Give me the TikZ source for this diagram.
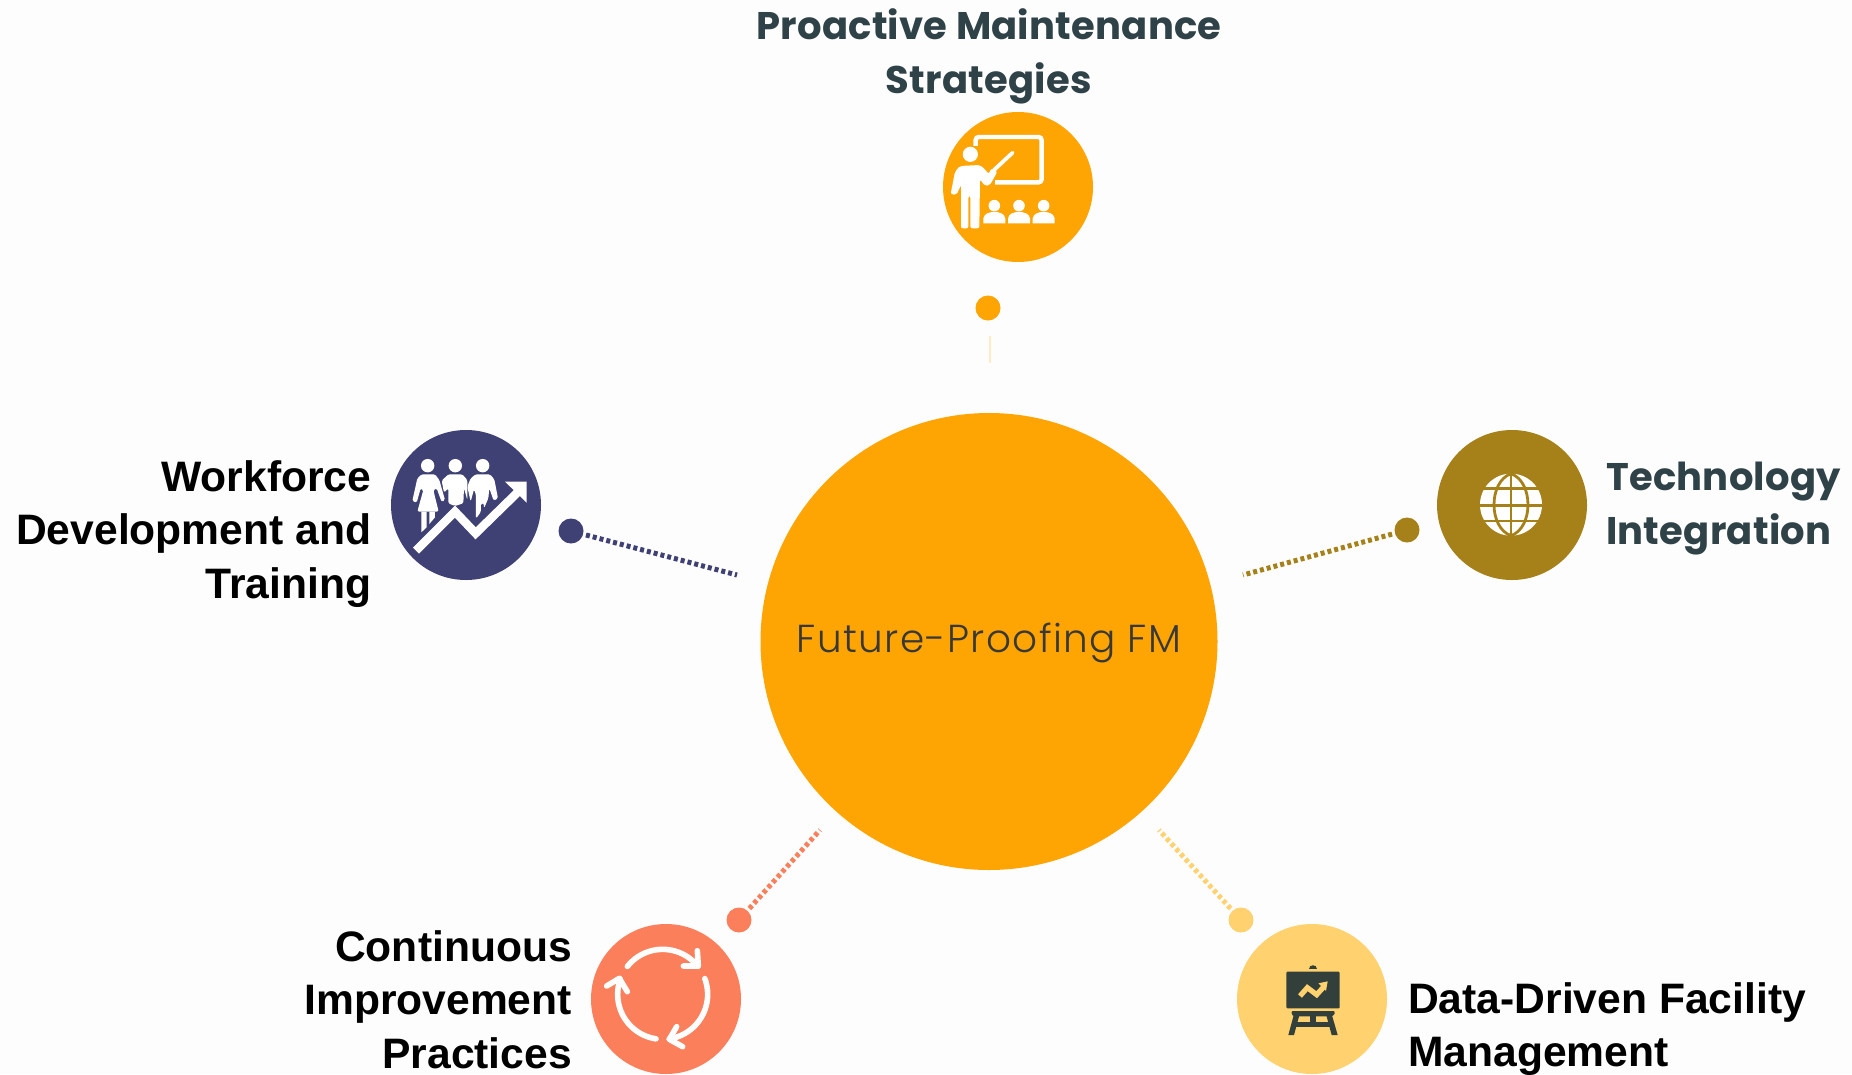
\documentclass[tikz,border=0pt]{standalone}
\usepackage{fontspec}
\setmainfont{Liberation Sans}
\newfontfamily\montsb[LetterSpace=0.6]{Poppins Bold}
\newfontfamily\montl[LetterSpace=3.5]{Poppins Light}
\definecolor{bgc}{HTML}{FDFDFD}
\definecolor{orangec}{HTML}{FFA503}
\definecolor{navyc}{HTML}{3F4175}
\definecolor{goldc}{HTML}{A6811A}
\definecolor{coralc}{HTML}{FB7F5B}
\definecolor{lightc}{HTML}{FFD26F}
\definecolor{darkc}{HTML}{323F3B}
\definecolor{titlec}{HTML}{2F4247}
\definecolor{paleline}{HTML}{FFEBC6}
\tikzset{
  big/.style={circle,minimum size=150pt,inner sep=0pt,outer sep=0pt},
  dot/.style={circle,minimum size=25pt,inner sep=0pt,outer sep=0pt},
  link/.style={line width=5pt,dash pattern=on 4pt off 3pt,shorten <=3pt},
  armhead/.style={font=\fontsize{42.6}{53.5}\selectfont\bfseries,text=black,inner sep=0pt},
  monthead/.style={font=\fontsize{38.5}{54}\selectfont\montsb,text=titlec,inner sep=0pt,align=center},
  zoomed/.style={x=0.3333pt,y=-0.3333pt},
}
\begin{document}
\begin{tikzpicture}[x=1pt,y=-1pt]
\useasboundingbox (0,0) rectangle (1852,1074);
\clip (0,0) rectangle (1852,1074);
\fill[bgc] (0,0) rectangle (1852,1074);
% main
\node[circle,minimum size=457pt,inner sep=0pt,outer sep=0pt,fill=orangec] (main) at (989,641.5) {};
\node[text=black!78,font=\fontsize{39}{44}\selectfont\montl,inner sep=0pt] (mainlabel) at (989,642.5) {Future-Proofing FM};
% outer circles
\node[big,fill=orangec] (cP) at (1018,187) {};
\node[big,fill=navyc] (cW) at (466,505) {};
\node[big,fill=goldc] (cT) at (1512,505) {};
\node[big,fill=coralc] (cC) at (666,999) {};
\node[big,fill=lightc] (cD) at (1312,999) {};
% dots
\node[dot,fill=orangec] (dP) at (988,308) {};
\node[dot,fill=navyc] (dW) at (571,531) {};
\node[dot,fill=goldc] (dT) at (1407,530) {};
\node[dot,fill=coralc] (dC) at (739,920) {};
\node[dot,fill=lightc] (dD) at (1241,920) {};
% connectors
\coordinate (eP) at (990,363);
\coordinate (sP) at (990,336);
\coordinate (eW) at (737,575);
\coordinate (eT) at (1243,575);
\coordinate (eC) at (820,830);
\coordinate (eD) at (1159,830);
\draw[line width=1.5pt,paleline] (sP) -- (eP);
\draw[link,navyc] (dW) -- (eW);
\draw[link,goldc] (dT) -- (eT);
\draw[link,coralc] (dC) -- (eC);
\draw[link,lightc] (dD) -- (eD);
% labels
\node[monthead,anchor=north] (tP) at (989,8) {Proactive Maintenance\\Strategies};
\node[monthead,anchor=north west,align=left] (tT) at (1606,462) {Technology\\Integration};
\node[armhead,anchor=north east,align=right] (tW) at (371.5,460) {Workforce\\Development and\\Training};
\node[armhead,anchor=north east,align=right] (tC) at (572,930) {Continuous\\Improvement\\Practices};
\node[armhead,anchor=north west,align=left] (tD) at (1408,982) {Data-Driven Facility\\Management};
% icon: teacher
\begin{scope}[shift={(920,90)},zoomed]
\draw[white,line width=4.4pt,rounded corners=3pt] (167,168)--(167,141)--(365,141)--(365,277)--(225,277);
\fill[white] (151,193) circle[radius=7.6pt];
\draw[white,line width=3.8pt,line cap=round] (278,188)--(222,240);
\fill[white,rounded corners=2pt] (123,415)--(123,285)--(109,315)--(92,312)--(105,245)--(120,228)--(180,225)--(197,240)--(205,252)--(215,235)--(232,245)--(210,285)--(195,288)--(180,268)--(178,415)--(151,415)--(151,318)--(145,318)--(145,415)--cycle;
\foreach \hx in {223,297,371}{
  \fill[white] (\hx,347) circle[radius=5.8pt];
  \fill[white] (\hx-33,400)--(\hx-33,385) .. controls (\hx-30,370) and (\hx-15,366) .. (\hx,366) .. controls (\hx+15,366) and (\hx+30,370) .. (\hx+33,385)--(\hx+33,400)--cycle;
}
\end{scope}
% icon: workforce
\begin{scope}[shift={(380,420)},zoomed]
\foreach \hx in {143,226,308}{\fill[white] (\hx,137) circle[radius=6.7pt];}
\fill[white,rounded corners=1.5pt] (125,163)--(165,163)--(178,180)--(195,240)--(185,246)--(170,205)--(160,210)--(176,275)--(112,275)--(130,210)--(122,205)--(110,248)--(97,243)--(112,175)--cycle;
\fill[white] (124,275)--(124,337)--(140,322)--(140,275)--cycle;
\fill[white] (148,275)--(148,312)--(165,292)--(165,275)--cycle;
\fill[white,rounded corners=1.5pt] (205,163)--(247,163)--(262,180)--(262,240)--(252,205)--(250,250)--(225,258)--(205,250)--(205,205)--(192,218)--(185,182)--cycle;
\fill[white,rounded corners=1.5pt] (287,163)--(330,163)--(343,178)--(354,235)--(341,242)--(328,205)--(325,235)--(312,265)--(312,250)--(303,250)--(303,275)--(288,296)--(288,225)--(282,208)--(272,245)--(262,200)--(272,175)--cycle;
\draw[white,line width=8.5pt] (108,392)--(225,275)--(287,340)--(415,215);
\fill[white] (375,185)--(440,185)--(440,248)--cycle;
\end{scope}
% icon: globe
\begin{scope}[shift={(1430,420)},zoomed]
\fill[white] (243,254) circle[radius=31pt];
\draw[goldc,line width=2.8pt] (243,161)--(243,347);
\draw[goldc,line width=2.8pt] (150,205)--(336,205);
\draw[goldc,line width=3pt] (150,256)--(336,256);
\draw[goldc,line width=2.8pt] (150,303)--(336,303);
\draw[goldc,line width=2.8pt] (243,161) .. controls (175,185) and (175,323) .. (243,347) .. controls (311,323) and (311,185) .. (243,161);
\end{scope}
% icon: cycle
\begin{scope}[shift={(580,910)},zoomed]
\tikzset{cyc/.style={white,line width=5.6pt,line cap=round,line join=round}}
\draw[cyc,samples=30,domain=-141.7:-38.5,smooth,variable=\t] plot ({248+135*cos(\t)},{253+135*sin(\t)});
\draw[cyc] (352,122)--(355,168)--(310,168);
\draw[cyc,samples=30,domain=-20.5:81.6,smooth,variable=\t] plot ({248+135*cos(\t)},{253+135*sin(\t)});
\draw[cyc] (290,350)--(268,388)--(308,410);
\draw[cyc,samples=30,domain=98.5:199.8,smooth,variable=\t] plot ({248+135*cos(\t)},{253+135*sin(\t)});
\draw[cyc] (80,228)--(118,205)--(142,245);
\end{scope}
% icon: easel
\begin{scope}[shift={(1225,910)},zoomed]
\fill[darkc,rounded corners=1pt] (184,185) rectangle (344,295);
\fill[darkc] (252,178) .. controls (252,161) and (276,161) .. (276,178)--cycle;
\fill[darkc,rounded corners=1pt] (200,303)--(329,303)--(329,313)--(320,319)--(207,319)--(200,313)--cycle;
\fill[darkc] (206,316)--(190,375)--(207,375)--(223,316)--cycle;
\fill[darkc] (321,316)--(338,375)--(320,375)--(304,316)--cycle;
\fill[darkc] (213,335) rectangle (316,350);
\fill[darkc] (255,316) rectangle (272,335);
\draw[lightc,line width=5.2pt] (225,258)--(247,233)--(275,254)--(295,232);
\fill[lightc] (280,220)--(308,214)--(303,243)--cycle;
\end{scope}
\end{tikzpicture}
\end{document}
